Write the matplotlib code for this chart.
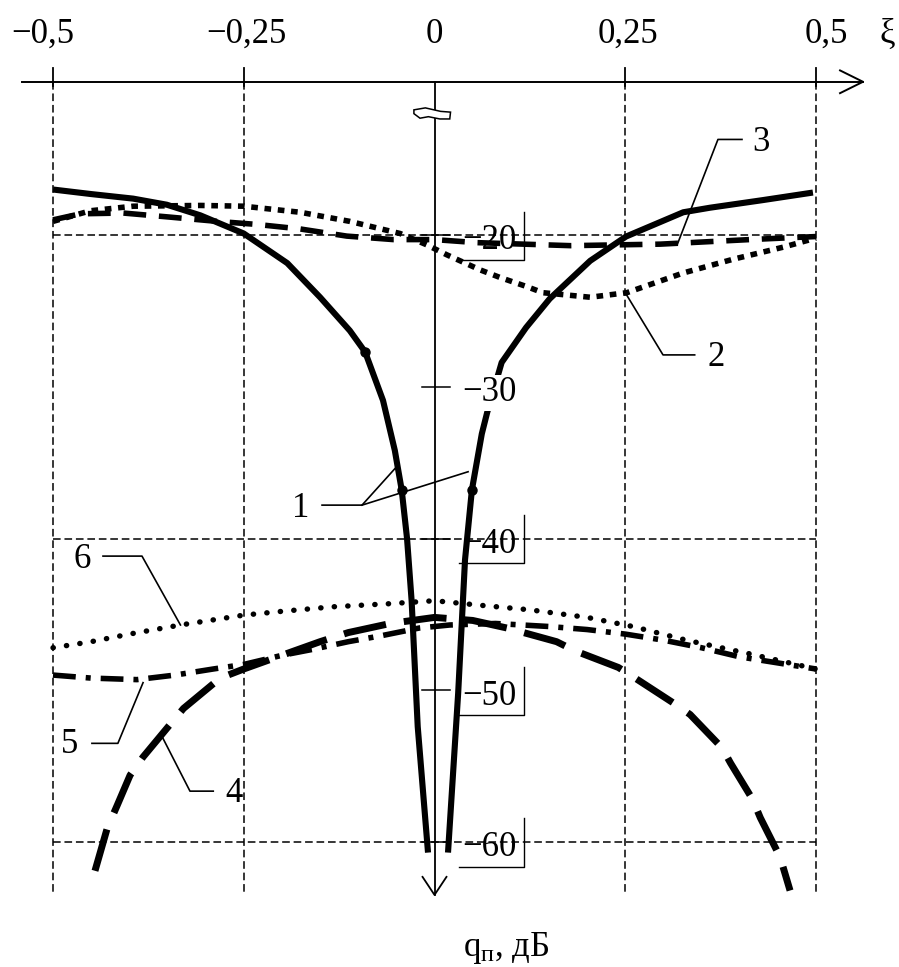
import matplotlib
matplotlib.use("Agg")
import matplotlib.pyplot as plt
from matplotlib.patches import Polygon

plt.rcParams['font.family'] = ['Liberation Serif', 'DejaVu Serif']
plt.rcParams['mathtext.fontset'] = 'custom'
plt.rcParams['mathtext.rm'] = 'Liberation Serif'
plt.rcParams['mathtext.it'] = 'Liberation Serif:italic'

# ---- data: q_n (dB) versus xi ----
# curve 1, two branches of the notch
x1_left = [-0.5, -0.45, -0.395, -0.351, -0.307, -0.25, -0.193, -0.15, -0.111, -0.091,
           -0.0675, -0.052, -0.043, -0.036, -0.030, -0.022, -0.0085]
y1_left = [-17.0, -17.3, -17.6, -18.0, -18.7, -19.9, -21.85, -24.1, -26.3, -27.7,
           -30.9, -34.2, -36.8, -40.0, -44.1, -52.4, -60.7]
x1_right = [0.0177, 0.031, 0.040, 0.049, 0.062, 0.069, 0.088, 0.12, 0.151, 0.204,
            0.251, 0.326, 0.361, 0.43, 0.496]
y1_right = [-60.7, -50.2, -41.4, -36.8, -33.1, -31.7, -28.4, -26.1, -24.2, -21.7,
            -20.1, -18.5, -18.2, -17.7, -17.2]
x1_marks = [-0.091, -0.043, 0.049]
y1_marks = [-27.7, -36.8, -36.8]

# curve 2
x2 = [-0.5, -0.451, -0.395, -0.307, -0.25, -0.176, -0.111, -0.045, -0.01, 0.016, 0.06,
      0.086, 0.121, 0.142, 0.204, 0.252, 0.326, 0.391, 0.457, 0.5]
y2 = [-19.1, -18.4, -18.1, -18.05, -18.1, -18.5, -19.1, -19.9, -20.65, -21.3, -22.3,
      -22.8, -23.4, -23.8, -24.1, -23.8, -22.5, -21.6, -20.8, -20.2]

# curve 3
x3 = [-0.5, -0.464, -0.408, -0.351, -0.285, -0.233, -0.176, -0.115, -0.054, 0.0,
      0.055, 0.178, 0.296, 0.413, 0.5]
y3 = [-19.0, -18.6, -18.55, -18.8, -19.1, -19.3, -19.6, -20.07, -20.3, -20.3,
      -20.5, -20.7, -20.6, -20.3, -20.1]

# curve 4
x4 = [-0.445, -0.429, -0.416, -0.399, -0.382, -0.344, -0.329, -0.281, -0.25, -0.189,
      -0.15, -0.113, -0.058, 0.0, 0.05, 0.095, 0.16, 0.184, 0.241, 0.263, 0.318,
      0.335, 0.377, 0.388, 0.417, 0.427, 0.453, 0.466]
y4 = [-61.9, -59.1, -57.6, -55.6, -54.4, -52.1, -51.2, -49.2, -48.6, -47.5,
      -46.8, -46.2, -45.6, -45.2, -45.4, -45.9, -46.8, -47.4, -48.5, -49.2, -51.0,
      -51.6, -53.8, -54.8, -57.2, -58.4, -61.0, -63.2]

# curve 5
x5 = [-0.5, -0.45, -0.39, -0.34, -0.29, -0.25, -0.2, -0.159, -0.113, -0.069, -0.02,
      0.02, 0.08, 0.15, 0.2, 0.25, 0.3, 0.35, 0.4, 0.45, 0.5]
y5 = [-49.0, -49.2, -49.3, -49.0, -48.6, -48.3, -47.7, -47.3, -46.8, -46.4, -45.9,
      -45.7, -45.6, -45.8, -46.0, -46.3, -46.7, -47.2, -47.8, -48.2, -48.6]

# curve 6
x6 = [-0.5, -0.45, -0.4, -0.333, -0.25, -0.2, -0.133, -0.06, 0.0, 0.06, 0.125,
      0.2, 0.26, 0.33, 0.413, 0.5]
y6 = [-47.2, -46.8, -46.3, -45.7, -45.05, -44.8, -44.5, -44.3, -44.1, -44.4, -44.7,
      -45.2, -45.8, -46.7, -47.6, -48.6]

# axis ticks and labels
xi_ticks = [-0.5, -0.25, 0.25, 0.5]
xi_label_text = ["\u22120,5", "\u22120,25", "0", "0,25", "0,5"]
q_ticks = [-20, -30, -40, -50, -60]
q_grid = [-20, -40, -60]
q_boxed = [-20, -40, -50, -60]

# ---- figure ----
fig = plt.figure(figsize=(8.99, 9.67), dpi=100)
ax = fig.add_axes([0, 0, 1, 1])
ax.set_xlim(-0.5695, 0.6088)
ax.set_ylim(-68.24, -4.51)
ax.axis('off')

K = 'black'
Y_AX = -9.9          # level of the horizontal xi axis
Y_GRID_TOP = -9.0
Y_GRID_BOT = -63.35
FS = 25

# horizontal xi axis with open arrow
ax.plot([-0.5406, 0.5616], [Y_AX, Y_AX], color=K, lw=1.4, zorder=3)
ax.plot([0.5315, 0.5616, 0.5315], [Y_AX + 0.75, Y_AX, Y_AX - 0.75], color=K, lw=1.4, zorder=3)

# vertical q axis with open arrow
ax.plot([0, 0], [Y_AX, -63.49], color=K, lw=1.3, zorder=3)
ax.plot([-0.0157, 0, 0.0157], [-62.3, -63.49, -62.3], color=K, lw=1.3, zorder=3)

# grid
for xv in xi_ticks:
    ax.plot([xv, xv], [Y_GRID_TOP, Y_AX - 0.3], color=K, lw=1.3, zorder=2)
    ax.plot([xv, xv], [Y_AX, Y_GRID_BOT], color=K, lw=1.1, dashes=(5, 2.5), zorder=2)
for yv in q_grid:
    ax.plot([-0.5, 0.5], [yv, yv], color=K, lw=1.1, dashes=(5, 2.5), zorder=2)

# short ticks on the q axis
for yv in q_ticks:
    ax.plot([-0.016, 0.02], [yv, yv], color=K, lw=1.1, zorder=3)

# xi tick labels
for xv, s in zip([-0.513, -0.247, 0.0, 0.2536, 0.514], xi_label_text):
    ax.text(xv, -7.35, s, fontsize=FS, ha='center', va='baseline', color=K)
ax.text(0.593, -7.35, "\u03be", fontsize=FS, ha='center', va='baseline', color=K)

# q tick labels
for yv in q_ticks:
    kw = {}
    if yv == -30:
        kw['bbox'] = dict(facecolor='white', edgecolor='none', pad=1)
    ax.text(0.108, yv - 0.95, "\u2212%d" % abs(yv), fontsize=FS, ha='right',
            va='baseline', color=K, zorder=6, **kw)
for yv in q_boxed:
    ax.plot([0.032, 0.1173, 0.1173], [yv - 1.62, yv - 1.62, yv + 1.55], color=K,
            lw=1.0, zorder=5)

# curves
ax.plot(x1_left, y1_left, color=K, lw=4.4, solid_capstyle='butt',
        solid_joinstyle='round', zorder=4)
ax.plot(x1_right, y1_right, color=K, lw=4.4, solid_capstyle='butt',
        solid_joinstyle='round', zorder=4)
ax.plot(x1_marks, y1_marks, 'o', color=K, ms=6.5, zorder=4)
ax.plot(x2, y2, color=K, lw=4.0, dashes=(1.2, 1.2), dash_capstyle='butt', zorder=4)
ax.plot(x3, y3, color=K, lw=4.0, dashes=(4.1, 2.3), dash_capstyle='butt', zorder=4)
ax.plot(x4, y4, color=K, lw=5.0, dashes=(6.2, 2.6), dash_capstyle='butt', zorder=4)
ax.plot(x5, y5, color=K, lw=4.0, dashes=(4.1, 1.8, 0.9, 1.8), dash_capstyle='butt', zorder=4)
ax.plot(x6, y6, color=K, lw=3.9, dashes=(0.05, 2.45), dash_capstyle='round', zorder=4)

# leader lines and curve numbers
leaders = {
    '2': ([0.341, 0.2995, 0.25], [-27.9, -27.9, -23.8], (0.369, -28.1)),
    '3': ([0.403, 0.3715, 0.318], [-13.7, -13.7, -20.65], (0.428, -13.9)),
    '4': ([-0.290, -0.3205, -0.356], [-56.65, -56.65, -53.16], (-0.263, -56.8)),
    '5': ([-0.449, -0.415, -0.382], [-53.5, -53.5, -49.5], (-0.478, -53.6)),
    '6': ([-0.4345, -0.3834, -0.333], [-41.16, -41.16, -45.7], (-0.462, -41.4)),
}
for name, (lx, ly, (tx, ty)) in leaders.items():
    ax.plot(lx, ly, color=K, lw=1.2, zorder=5)
    ax.text(tx, ty, name, fontsize=FS, ha='center', va='center', color=K, zorder=6)
ax.plot([-0.052, -0.095, -0.1474], [-35.4, -37.8, -37.8], color=K, lw=1.2, zorder=5)
ax.plot([0.044, -0.095], [-35.6, -37.8], color=K, lw=1.2, zorder=5)
ax.text(-0.176, -38.0, "1", fontsize=FS, ha='center', va='center', color=K, zorder=6)

# small outlined mark on the q axis below the xi axis
ax.add_patch(Polygon([(-0.027, -11.75), (-0.012, -11.62), (0.008, -11.85), (0.021, -11.9),
                      (0.020, -12.35), (0.007, -12.35), (-0.008, -12.2), (-0.019, -12.3),
                      (-0.027, -12.0)], closed=True, facecolor='white', edgecolor=K,
                     lw=1.1, zorder=5))

# q axis title
ax.text(0.0937, -67.5, "q$_{\\mathrm{\u043f}}$, \u0434\u0411", fontsize=FS, ha='center',
        va='baseline', color=K)

fig.savefig("out.png", dpi=100)
